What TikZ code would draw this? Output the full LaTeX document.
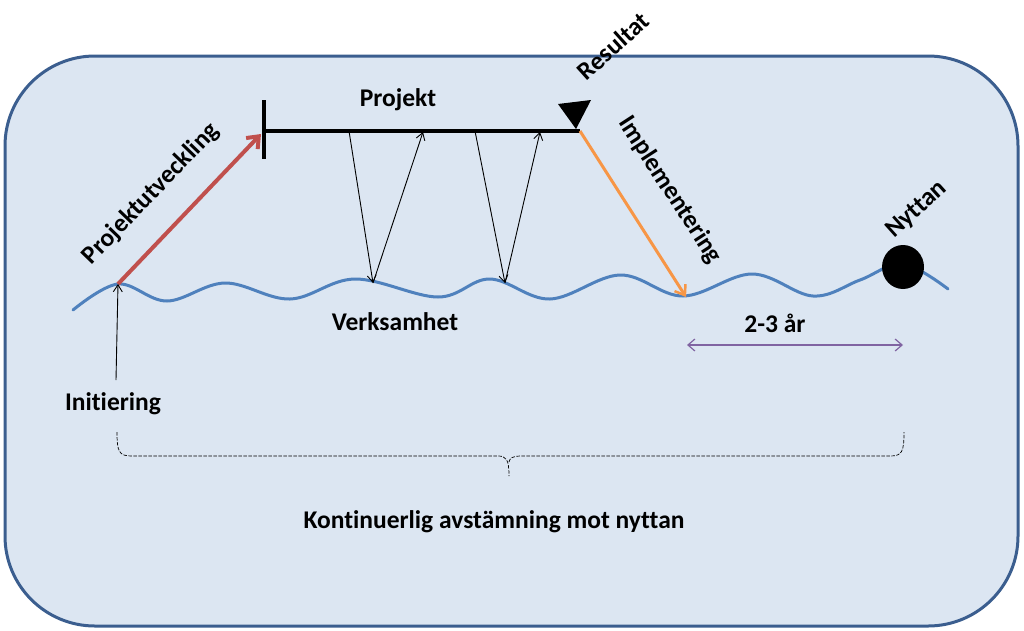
\documentclass[tikz,border=0pt]{standalone}
\usepackage{fontspec}
\setmainfont{Carlito}[Ligatures=NoCommon]
\usetikzlibrary{arrows.meta}
\definecolor{bgfill}{HTML}{DCE6F2}
\definecolor{bgline}{HTML}{3B5E8F}
\definecolor{wave}{HTML}{4F81BD}
\definecolor{redarr}{HTML}{C0504D}
\definecolor{orarr}{HTML}{F79646}
\definecolor{purarr}{HTML}{8064A2}
\tikzset{
  lbl/.style={font=\fontsize{25.5}{28}\selectfont\bfseries, inner sep=0pt},
  thinarr/.style={black, line width=0.9pt, -{Straight Barb[length=7pt,width=9pt,line width=0.9pt]}},
  bigarr/.style={line width=4pt, -{Straight Barb[length=10pt,width=16pt,line width=4pt]}},
  midarr/.style={line width=3pt, -{Straight Barb[length=9pt,width=13pt,line width=2.5pt]}},
}
\begin{document}
\begin{tikzpicture}[x=1pt,y=-1pt]
\useasboundingbox (0,0) rectangle (1024,630);
\fill[white] (0,0) rectangle (1024,630);
\draw[bgline, fill=bgfill, line width=3pt, rounded corners=90pt] (5,56) rectangle (1018,626);

% wave
\draw[wave, line width=3pt, line cap=round] plot[smooth, tension=0.6] coordinates {
 (73,310) (118,284) (167,301) (225,283) (290,299) (355,279) (438,297) (490,279) (550,299) (620,275) (683,296) (752,274) (813,296) (860,280) (903,264) (948,289)};

% coordinates
\coordinate (init) at (118,284);
\coordinate (initlow) at (116,380);
\coordinate (pstart) at (264,131);
\coordinate (pend) at (580,131);
\coordinate (w1) at (373,283);
\coordinate (w2) at (505,283);
\coordinate (t1) at (349,131);
\coordinate (t2) at (423,132);
\coordinate (t3) at (475,131);
\coordinate (t4) at (540,132);
\coordinate (impl) at (686,297);
\coordinate (dl) at (687,345);
\coordinate (dr) at (903,345);

% project line
\draw[black, line width=4pt] (pstart) -- (pend);
\draw[black, line width=4pt] (264,100) -- (264,159);
\fill[black] (558,104) -- (591,100) -- (576,129) -- cycle;

% arrows
\draw[redarr, bigarr] (init) -- (261,134);
\draw[orarr, midarr] (pend) -- (impl);
\draw[thinarr] (initlow) -- (init);
\draw[thinarr] (t1) -- (w1);
\draw[thinarr] (w1) -- (t2);
\draw[thinarr] (t3) -- (w2);
\draw[thinarr] (w2) -- (t4);
\draw[purarr, line width=1.2pt, {Straight Barb[length=7pt,width=12pt]}-{Straight Barb[length=7pt,width=12pt]}] (dl) -- (dr);

% goal
\fill[black] (903,267) ellipse [x radius=21, y radius=22];

% brace
\draw[black, line width=0.7pt, dash pattern=on 3.5pt off 1.5pt]
  (117,432) .. controls (117,452) and (119,456) .. (132,456) -- (498,456)
  .. controls (506,456) and (509,459) .. (509,476);
\draw[black, line width=0.7pt, dash pattern=on 3.5pt off 1.5pt]
  (509,462) .. controls (510,458) and (512,456) .. (522,456) -- (890,456)
  .. controls (902,456) and (904,452) .. (904,432);

% labels
\node[lbl] (projekt) at (398,100) {Projekt};
\node[lbl, rotate=46] (putv) at (151,194) {Projektutveckling};
\node[lbl, rotate=42] (res) at (613,46) {Resultat};
\node[lbl, rotate=-57] (imp) at (670,190) {Implementering};
\node[lbl, rotate=42] (nyt) at (917,210) {Nyttan};
\node[lbl] (verk) at (395,322) {Verksamhet};
\node[lbl] (ar) at (775,323) {2-3 år};
\node[lbl] (initt) at (113,404) {Initiering};
\node[lbl] (kont) at (494,522) {Kontinuerlig avstämning mot nyttan};
\end{tikzpicture}
\end{document}
